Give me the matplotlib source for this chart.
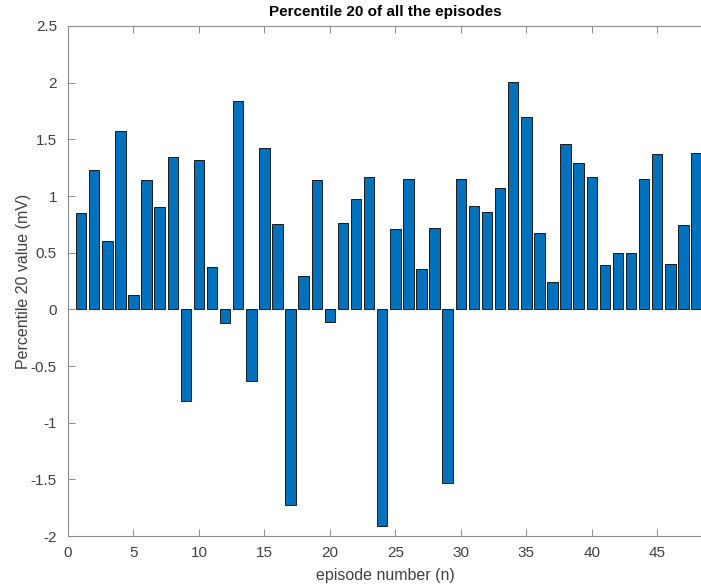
import matplotlib.pyplot as plt

plt.rcParams['font.family'] = ['Liberation Sans', 'DejaVu Sans']

episodes = list(range(1, 49))
p20 = [0.85, 1.23, 0.60, 1.57, 0.13, 1.14, 0.90, 1.34, -0.81, 1.32,
       0.37, -0.12, 1.84, -0.63, 1.42, 0.75, -1.73, 0.29, 1.14, -0.11,
       0.76, 0.97, 1.17, -1.91, 0.71, 1.15, 0.36, 0.72, -1.53, 1.15,
       0.91, 0.86, 1.07, 2.01, 1.70, 0.67, 0.24, 1.46, 1.29, 1.17,
       0.39, 0.50, 0.50, 1.15, 1.37, 0.40, 0.74, 1.38]
yticks = [-2, -1.5, -1, -0.5, 0, 0.5, 1, 1.5, 2, 2.5]
yticklabels = ['-2', '-1.5', '-1', '-0.5', '0', '0.5', '1', '1.5', '2', '2.5']
xticks = [0, 5, 10, 15, 20, 25, 30, 35, 40, 45]

fig = plt.figure(figsize=(7.01, 5.88), dpi=100)
ax = fig.add_axes([0.097, 0.0884, 0.905, 0.8674])
ax.bar(episodes, p20, width=0.8, color='#0072BD', edgecolor='#1a1a1a', linewidth=0.7)

ax.set_xlim(0, 48.45)
ax.set_ylim(-2, 2.5)
ax.set_xticks(xticks)
ax.set_yticks(yticks)
ax.set_yticklabels(yticklabels)

grey = '#404040'
for s in ['left', 'bottom', 'top']:
    ax.spines[s].set_color('#8c8c8c')
    ax.spines[s].set_linewidth(0.8)
ax.spines['right'].set_visible(False)
ax.tick_params(direction='in', top=True, right=False, length=5, width=0.7,
               color='#8c8c8c', labelcolor=grey, labelsize=11)
ax.tick_params(axis='x', pad=7)
ax.tick_params(axis='y', pad=8)

ax.set_title('Percentile 20 of all the episodes', fontsize=11, fontweight='bold', pad=7)
ax.set_xlabel('episode number (n)', fontsize=11.5, color=grey, labelpad=6)
ax.set_ylabel('Percentile 20 value (mV)', fontsize=11.5, color=grey, labelpad=0)

fig.savefig('out.png', dpi=100)
